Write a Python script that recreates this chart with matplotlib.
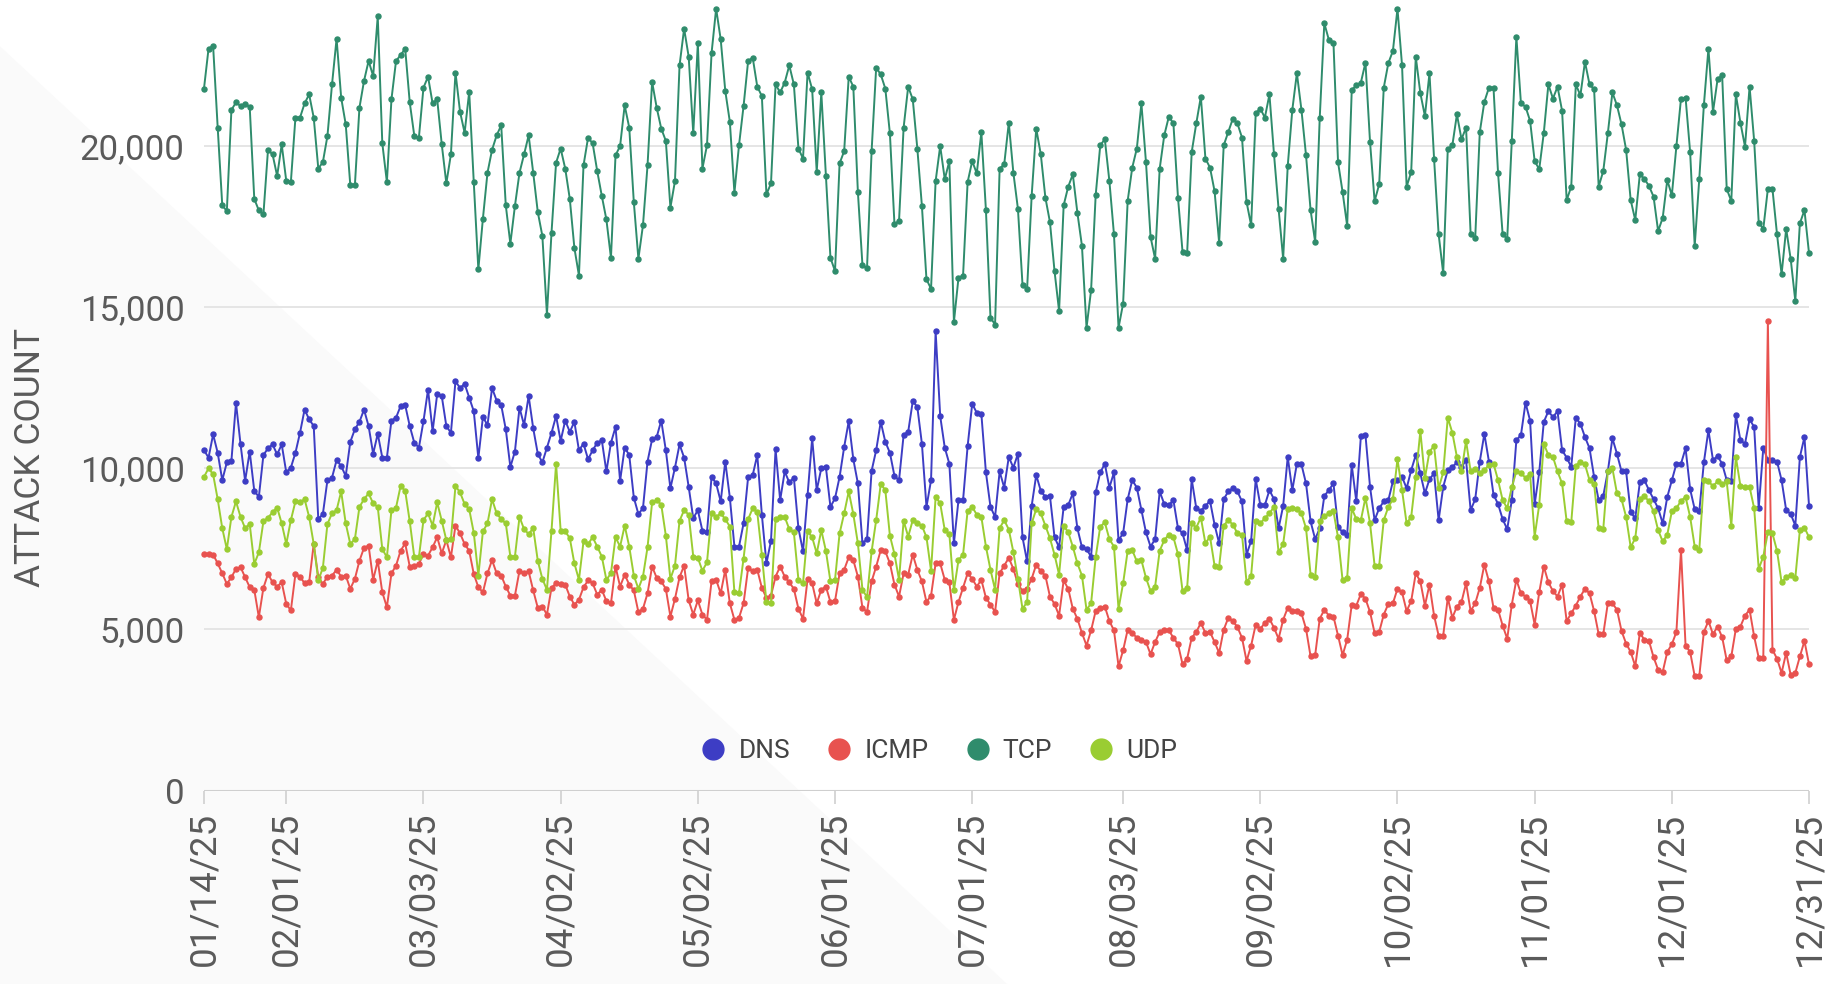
import matplotlib.pyplot as plt
import pandas as pd
from matplotlib.patches import Polygon
from matplotlib.lines import Line2D

plt.rcParams['font.family'] = ['Roboto', 'DejaVu Sans']

# daily values, 01/14/25 .. 12/31/25
dates = pd.date_range('2025-01-14', '2025-12-31', freq='D')

tcp = [21780, 23020, 23100, 20570, 18160, 17980, 21120, 21350, 21240, 21300,
       21220, 18360, 18000, 17880, 19880, 19740, 19070, 20050, 18910, 18880,
       20880, 20880, 21320, 21600, 20880, 19300, 19500, 20310, 21910, 23330,
       21500, 20670, 18780, 18780, 21190, 22020, 22640, 22170, 24020, 20080,
       18880, 21450, 22640, 22820, 23020, 21350, 20310, 20260, 21810, 22150,
       21320, 21450, 20050, 18840, 19740, 22280, 21060, 20410, 21680, 18880,
       16170, 17750, 19170, 19880, 20330, 20640, 18160, 16970, 18140, 19170,
       19740, 20330, 19170, 17950, 17210, 14770, 17310, 19480, 19920, 19300,
       18360, 16840, 15980, 19400, 20260, 20080, 19220, 18450, 17720, 16530,
       19710, 20000, 21260, 20570, 18260, 16500, 17540, 19400, 21990, 21190,
       20540, 20160, 18090, 18910, 22500, 23640, 22770, 20390, 23190, 19300,
       20020, 22880, 24260, 23310, 21710, 20750, 18550, 20020, 21240, 22640,
       22740, 21840, 21550, 18500, 18840, 21910, 21660, 21970, 22500, 21910,
       19920, 19610, 22280, 21760, 19190, 21660, 19070, 16530, 16120, 19460,
       19840, 22150, 21840, 18570, 16300, 16220, 19840, 22430, 22220, 21780,
       20390, 17570, 17680, 20570, 21840, 21450, 19920, 18140, 15860, 15570,
       18910, 20000, 18970, 19530, 14540, 15910, 15980, 18880, 19530, 19150,
       20430, 18010, 14670, 14460, 19300, 19430, 20720, 19170, 18050, 15700,
       15550, 18450, 20540, 19740, 18400, 17640, 16120, 14880, 18160, 18740,
       19120, 17930, 16900, 14360, 15530, 18470, 20020, 20210, 18910, 17260,
       14360, 15110, 18300, 19330, 19920, 21320, 19500, 17180, 16500, 19300,
       20330, 20910, 20700, 18400, 16710, 16670, 19810, 20700, 21530, 19610,
       19330, 18600, 17000, 20020, 20430, 20850, 20700, 20260, 18260, 17540,
       21010, 21160, 20880, 21600, 19740, 18050, 16500, 19380, 21120, 22260,
       21120, 19710, 18010, 17020, 20880, 23810, 23290, 23210, 19500, 18570,
       17520, 21740, 21880, 21970, 22590, 20120, 18290, 18810, 21810, 22570,
       22950, 24260, 22500, 18740, 19190, 22770, 21640, 20930, 22260, 19610,
       17260, 16050, 19900, 20020, 20980, 20210, 20570, 17260, 17150, 20430,
       21370, 21810, 21810, 19150, 17260, 17120, 20160, 23390, 21320, 21220,
       20780, 19530, 19280, 20410, 21910, 21470, 21840, 21090, 18320, 18740,
       21910, 21570, 22610, 21910, 21760, 18740, 19220, 20390, 21660, 21260,
       20670, 19880, 18320, 17700, 19120, 18980, 18760, 18430, 17360, 17770,
       18940, 18470, 20000, 21470, 21500, 19810, 16900, 18980, 21260, 23020,
       21060, 22070, 22200, 18670, 18290, 21600, 20720, 19980, 21840, 20160,
       17620, 17430, 18670, 18670, 17260, 16020, 17430, 16480, 15190, 17600,
       18010, 16670]

dns = [10560, 10330, 11050, 10480, 9630, 10180, 10230, 12030, 10740, 9610,
       10520, 9300, 9110, 10410, 10620, 10740, 10430, 10740, 9870, 10020,
       10480, 11100, 11820, 11520, 11310, 8420, 8580, 9630, 9710, 10250,
       10070, 9760, 10820, 11210, 11440, 11820, 11310, 10450, 11070, 10330,
       10330, 11480, 11570, 11930, 11960, 11310, 10790, 10640, 11460, 12440,
       11150, 12300, 12240, 11310, 11100, 12700, 12490, 12620, 12190, 11770,
       10310, 11590, 11340, 12490, 12100, 11960, 11210, 10040, 10520, 11880,
       11340, 12240, 11240, 10450, 10180, 10640, 11100, 11620, 10850, 11480,
       11130, 11440, 10560, 10760, 10280, 10560, 10790, 10870, 9900, 10790,
       11280, 9610, 10640, 10410, 9090, 8580, 8760, 10210, 10900, 10970,
       11480, 10560, 9380, 10020, 10740, 10330, 9420, 8450, 8700, 8060,
       8010, 9730, 9530, 8970, 10210, 9090, 7570, 7570, 8290,
       9730, 9790, 10410, 8560, 7050, 7750, 10590, 9010, 9900, 9560, 9710,
       8140, 7420, 9180, 10930, 9320, 10000, 10040, 8800, 9070, 9730,
       10660, 11460, 10280, 9530, 7670, 7800, 9920, 10560, 11440, 10820,
       10480, 9760, 9630, 11030, 11130, 12080, 11900, 10760, 8800, 9630,
       14250, 11620, 10640, 10140, 7670, 9010, 9010, 10690, 12000, 11720,
       11690, 9870, 8800, 8490, 9900, 9400, 10350, 10020,
       10450, 7860, 7110, 8830, 9790, 9300, 9110, 9140, 7860, 7550,
       8800, 8860, 9220, 8140, 7550, 7490, 7260, 9250, 9870, 10140, 9400, 9870,
       7770, 7980, 9040, 9630, 9400, 8700, 8010, 7570, 7800, 9280,
       8890, 8860, 9010, 8140, 7980, 7460, 9660, 8760, 8680, 8830,
       8990, 8250, 7670, 9040, 9280, 9380, 9280, 8970, 7320, 7750,
       9660, 8860, 8860, 9320, 9040, 8140,
       8830, 10350, 9320, 10140, 10120, 9530, 8350, 7800, 8140, 9140,
       9320, 9530, 8190, 8010, 7940, 10100, 8970, 11000, 11030, 9420,
       8390, 8760, 8970, 9010, 9590, 9630, 9730, 9380, 9940, 10410,
       9840, 9220, 9660, 9840, 8390, 9420, 9940, 10040, 10180, 10040,
       10250, 8700, 9040, 10210, 11070, 10210, 9180, 8890, 8420, 8110,
       9010, 10870, 11030, 12030, 11480, 8890, 9870, 11440, 11770, 11590,
       11770, 10560, 10330, 10040, 11570, 11380, 10970, 10620, 9730, 9010,
       9140, 9900, 10930, 10450, 9900, 9900, 8630, 8450, 9560, 9630,
       9320, 9040, 8760, 8290, 9110, 9630, 10140, 10140, 10620, 9350,
       8730, 8660, 10180, 11180, 10250, 10380, 10140, 9630, 9590, 11650,
       10870, 10760, 11520, 11280, 8760, 10640, 10250, 10250, 10210, 9630,
       8700, 8580, 8220, 10350, 10970, 8830]

udp = [9730, 10000, 9810, 9040, 8140, 7490, 8490, 8970, 8490, 8140,
       8270, 7030, 7390, 8350, 8470, 8630, 8780, 8290, 7650, 8390,
       8970, 8940, 9040, 8490, 7650, 6520, 6910, 8270, 8600, 8700,
       9280, 8290, 7650, 7800, 8800, 9040, 9220, 8910, 8800, 7490,
       7240, 8700, 8780, 9450, 9300, 8350, 7240, 7240, 8390, 8600,
       8220, 8940, 8370, 7770, 7800, 9450, 9250, 8890, 8730, 8000,
       6670, 8040, 8290, 9040, 8600, 8420, 8290, 7260, 7260, 8490,
       8110, 7960, 8140, 7130, 6570, 6230, 8060, 10140, 8060, 8040,
       7830, 7050, 6540, 7730, 7650, 7860, 7570, 7260, 6540, 6740,
       7860, 7570, 8220, 7570, 6670, 6260, 6640, 7550, 8940, 9010,
       8870, 7910, 6570, 6980, 8370, 8700, 8560, 7260, 7220, 6820,
       7080, 8600, 8490, 8600, 8420, 8190, 6150, 6120, 7200,
       8420, 8760, 8630, 7320, 5850, 5810, 8420, 8490, 8490, 8110, 8010,
       6540, 6430, 8040, 7860, 7360, 8080, 7440, 6490, 6540, 7980,
       8600, 9280, 8580, 7670, 6230, 6000, 7420, 8390, 9510, 9320,
       7910, 7340, 6540, 8370, 7880, 8390, 8290, 8220, 7860, 6820,
       9110, 8910, 8080, 7960, 6210, 7150, 7320, 8680, 8800, 8560,
       8490, 7570, 6850, 6230, 8140, 8390, 8100, 7400,
       6570, 5640, 5850, 8290, 8730, 8600, 8220, 7830, 7320, 6700,
       8220, 8010, 7570, 7050, 6670, 5610, 5810, 7240, 8190, 8320,
       7800, 7570, 5640, 6430, 7440, 7460, 7110, 7150, 6600, 6190,
       6330, 7440, 7770, 7940, 7860, 7340, 6190, 6290, 8290, 8160,
       8470, 7670, 7880, 6980, 6950, 8220, 8390, 8250, 7980, 7940,
       6460, 6670, 8370, 8290, 8450, 8600, 8800, 7390,
       7650, 8730, 8760, 8730, 8600, 8140, 6700, 6620, 8350, 8520,
       8600, 8660, 7860, 6520, 6600, 8760, 8420, 8390, 9090, 8290,
       6980, 6980, 8390, 8800, 9040, 10280, 9320, 8290, 8490, 9730,
       11150, 9690, 10520, 10690, 9380, 9870, 11570, 11100, 10350, 9900,
       10850, 9900, 9970, 9840, 9940, 10100, 10140, 9630, 9010, 8760,
       9420, 9900, 9840, 9710, 9810, 7880, 8870, 10760, 10410, 10350,
       9900, 9530, 8350, 8320, 10070, 10210, 10120, 9630, 9510, 8140,
       8110, 9900, 10000, 9220, 9040, 8490, 7550, 7830, 9040, 9140,
       8970, 8660, 8080, 7730, 7940, 8660, 8760, 8990, 9110, 8490,
       7570, 7460, 9630, 9590, 9450, 9590, 9510, 9590, 8220, 10350,
       9450, 9420, 9420, 8760, 6880, 7260, 8010, 7980, 7440, 6460,
       6620, 6700, 6600, 8080, 8160, 7860]

icmp = [7340, 7340, 7320, 7050, 6740, 6410, 6620, 6880, 6930, 6620,
        6310, 6230, 5380, 6290, 6720, 6460, 6330, 6460, 5790, 5590,
        6720, 6640, 6430, 6460, 7650, 6620, 6410, 6640, 6670, 6850,
        6640, 6670, 6260, 6570, 7130, 7530, 7600, 6540, 7130, 6150,
        5690, 6740, 6980, 7440, 7670, 6950, 6980, 7030, 7340, 7290,
        7550, 7860, 7360, 7770, 7240, 8220, 7980, 7650, 7440, 6720,
        6310, 6150, 6740, 7150, 6740, 6670, 6330, 6050, 6050, 6820,
        6740, 6800, 6210, 5670, 5710, 5460, 6290, 6430, 6410, 6390,
        6020, 5770, 5920, 6310, 6520, 6430, 6080, 6230, 5880, 5810,
        6950, 6330, 6700, 6390, 6210, 5540, 5640, 6120, 6950, 6600,
        6490, 6260, 5400, 5950, 6620, 6980, 5900, 5460, 5900, 5460,
        5300, 6490, 6540, 6120, 6850, 5810, 5300, 5360, 5810,
        6910, 6800, 6850, 6290, 5980, 6050, 6640, 6950, 6640, 6460, 6260,
        5640, 5330, 6570, 6430, 5810, 6230, 6330, 5850, 5880, 6740,
        6850, 7240, 7150, 6640, 5670, 5540, 6490, 6950, 7460, 7420,
        7050, 6390, 6020, 6740, 6700, 7320, 6850, 6490, 5850, 6050,
        7050, 7050, 6540, 6460, 5300, 5850, 6290, 6740, 6570, 6330,
        6540, 5980, 5770, 5540, 6740, 6980, 7220, 6880,
        6410, 6190, 6260, 6570, 7010, 6800, 6670, 6020, 5790, 5430,
        6520, 6260, 5640, 5330, 4890, 4500, 4970, 5570, 5670, 5710,
        5260, 4970, 3860, 4350, 4990, 4890, 4740, 4680, 4610, 4230,
        4610, 4920, 4990, 4970, 4740, 4540, 3920, 4090, 4740, 4920,
        5200, 4890, 4920, 4610, 4270, 4990, 5360, 5260, 5070, 4740,
        4020, 4500, 5150, 5020, 5200, 5330, 5050, 4710,
        5300, 5670, 5570, 5570, 5500, 5020, 4160, 4200, 5330, 5610,
        5430, 5400, 4810, 4200, 4680, 5770, 5740, 6100, 5950, 5540,
        4890, 4920, 5460, 5790, 5810, 6260, 6150, 5570, 5880, 6740,
        6490, 5740, 6390, 5430, 4810, 4810, 5980, 5360, 5710, 5850,
        6430, 5570, 5810, 6290, 7010, 6490, 5670, 5610, 5120, 4710,
        5770, 6540, 6120, 6020, 5880, 5150, 6150, 6950, 6460, 6190,
        6020, 6390, 5260, 5500, 5740, 6020, 6260, 6120, 5570, 4850,
        4850, 5810, 5810, 5610, 4950, 4560, 4300, 3860, 4890, 4680,
        4640, 4140, 3750, 3680, 4300, 4540, 4920, 7460, 4500, 4300,
        3550, 3550, 4920, 5260, 4850, 5090, 4760, 4040, 4160, 5020,
        5090, 5430, 5610, 4780, 4120, 4120, 14560, 4370, 4090, 3650,
        4270, 3580, 3650, 4160, 4640, 3920]

series_names = ['DNS', 'ICMP', 'TCP', 'UDP']
series_values = [dns, icmp, tcp, udp]
series_colors = ['#3d3dc4', '#e8524f', '#2f8c6c', '#9acd32']

tick_dates = ['2025-01-14', '2025-02-01', '2025-03-03', '2025-04-02', '2025-05-02',
              '2025-06-01', '2025-07-01', '2025-08-03', '2025-09-02', '2025-10-02',
              '2025-11-01', '2025-12-01', '2025-12-31']
y_ticks = [0, 5000, 10000, 15000, 20000]

fig = plt.figure(figsize=(18.31, 9.84), dpi=100)
# faint diagonal watermark behind the chart
fig.patches.append(Polygon([(0, 0.953), (0.55, 0), (0, 0)], closed=True,
                           transform=fig.transFigure, facecolor='#fafafa',
                           edgecolor='none', zorder=-5))
ax = fig.add_axes([0.1114, 0.1966, 0.8766, 0.8034])
ax.patch.set_alpha(0)

for name, vals, col in zip(series_names, series_values, series_colors):
    ax.plot(dates, vals, color=col, lw=1.4, marker='o', ms=3.6,
            label=name, clip_on=False, zorder=3)

ax.set_xlim(dates[0], dates[-1])
ax.set_ylim(0, 24530)

ax.set_yticks(y_ticks)
ax.set_yticklabels([f'{v:,}' for v in y_ticks])
ax.yaxis.grid(True, color='#e3e3e3', lw=1.3)
ax.axhline(0, color='#cfcfcf', lw=1.5, zorder=2)
ax.tick_params(axis='y', length=0, pad=14, labelsize=25, labelcolor='#5a5a5a')

td = pd.to_datetime(tick_dates)
ax.set_xticks(td)
ax.set_xticklabels(td.strftime('%m/%d/%y'), rotation=90)
ax.tick_params(axis='x', length=9, width=1.2, color='#cfcfcf', pad=6,
               labelsize=26.5, labelcolor='#5a5a5a')

for s in ax.spines.values():
    s.set_visible(False)

ax.set_ylabel('ATTACK COUNT', fontsize=25.5, color='#5a5a5a')
ax.yaxis.set_label_coords(-0.098, 0.421)

handles = [Line2D([], [], ls='none', marker='o', ms=15, color=c) for c in series_colors]
fig.legend(handles, series_names, loc='center', bbox_to_anchor=(0.512, 0.237),
           ncol=4, frameon=False, fontsize=19, handlelength=1.2,
           handletextpad=0.35, columnspacing=1.26, labelcolor='#444444')

fig.savefig('out.png', dpi=100)
